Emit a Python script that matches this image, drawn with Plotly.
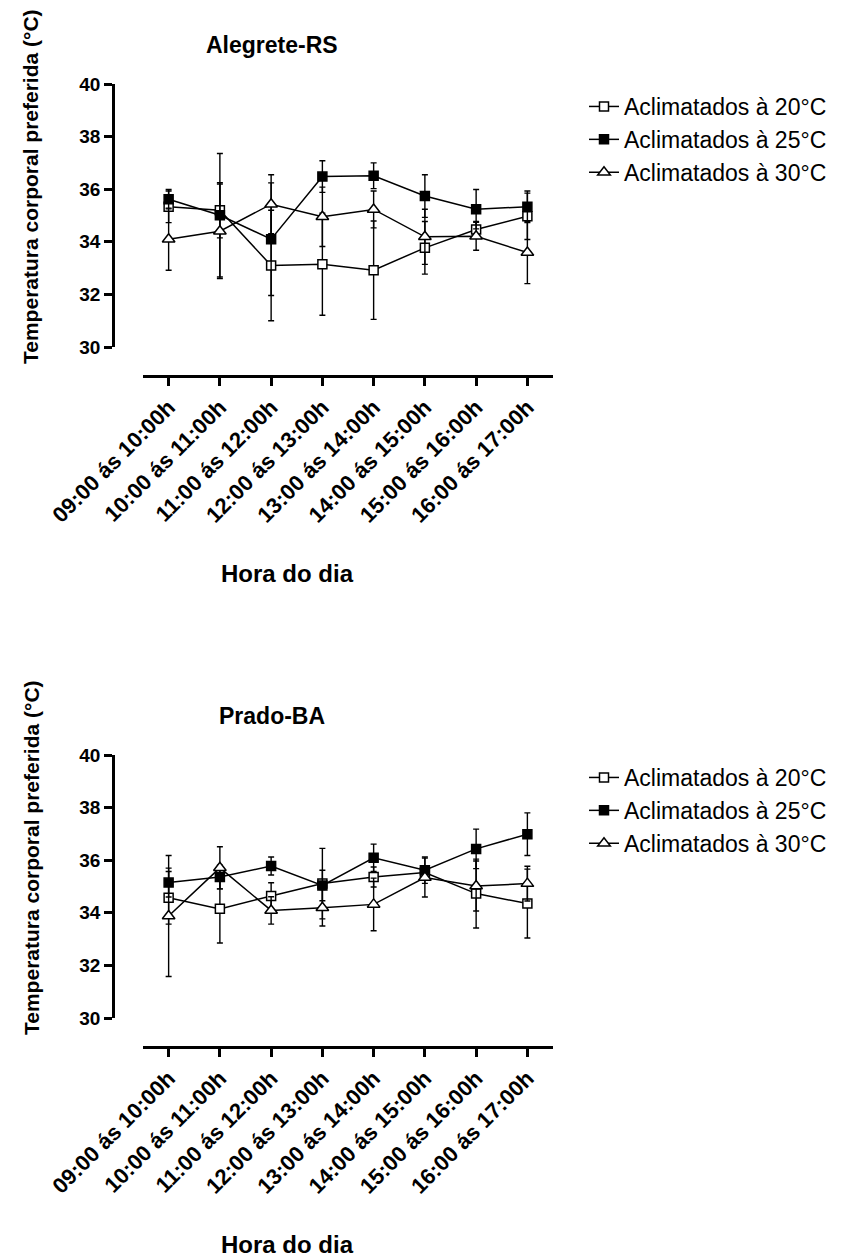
import plotly.graph_objects as go

W, H = 845, 1257

hours = ["09:00 ás 10:00h", "10:00 ás 11:00h", "11:00 ás 12:00h", "12:00 ás 13:00h",
         "13:00 ás 14:00h", "14:00 ás 15:00h", "15:00 ás 16:00h", "16:00 ás 17:00h"]
series_names = ["Aclimatados à 20°C", "Aclimatados à 25°C", "Aclimatados à 30°C"]

# Alegrete-RS
m20_a = [35.33, 35.20, 33.10, 33.15, 32.92, 33.77, 34.47, 34.97]
e20_a = [0.60, 1.05, 2.10, 1.94, 1.87, 1.00, 0.30, 0.88]
m25_a = [35.62, 35.01, 34.10, 36.48, 36.51, 35.74, 35.24, 35.33]
e25_a = [0.37, 2.35, 2.14, 0.60, 0.49, 0.81, 0.75, 0.60]
m30_a = [34.10, 34.40, 35.43, 34.95, 35.23, 34.19, 34.21, 33.59]
e30_a = [1.18, 1.80, 1.12, 1.13, 0.70, 1.05, 0.53, 1.18]

# Prado-BA
m20_p = [34.57, 34.15, 34.64, 35.11, 35.36, 35.53, 34.73, 34.35]
e20_p = [1.00, 1.30, 0.50, 1.34, 0.38, 0.25, 1.31, 1.31]
m25_p = [35.15, 35.36, 35.78, 35.04, 36.09, 35.62, 36.43, 36.99]
e25_p = [0.55, 0.45, 0.34, 0.58, 0.52, 0.50, 0.75, 0.81]
m30_p = [33.88, 35.71, 34.09, 34.19, 34.32, 35.34, 35.02, 35.11]
e30_p = [2.30, 0.80, 0.52, 0.69, 1.00, 0.74, 0.95, 0.66]

titles = ["Alegrete-RS", "Prado-BA"]
y_title = "Temperatura corporal preferida (°C)"
x_title = "Hora do dia"
y_ticks = [30, 32, 34, 36, 38, 40]

FONT = "Arial, Liberation Sans, sans-serif"

styles = [
    dict(symbol="square", color="white", size=9),
    dict(symbol="square", color="black", size=9),
    dict(symbol="triangle-up", color="white", size=11),
]

panels = [
    (m20_a, e20_a, m25_a, e25_a, m30_a, e30_a),
    (m20_p, e20_p, m25_p, e25_p, m30_p, e30_p),
]

fig = go.Figure()

for pi, p in enumerate(panels):
    xa = "x" if pi == 0 else "x2"
    ya = "y" if pi == 0 else "y2"
    lg = "legend" if pi == 0 else "legend2"
    for si in range(3):
        st = styles[si]
        fig.add_trace(go.Scatter(
            x=hours, y=p[2 * si],
            error_y=dict(type="data", array=p[2 * si + 1], visible=True,
                         color="black", thickness=1.4, width=3),
            mode="lines+markers",
            name=series_names[si],
            line=dict(color="black", width=1.5),
            marker=dict(symbol=st["symbol"], size=st["size"], color=st["color"],
                        line=dict(color="black", width=1.5)),
            xaxis=xa, yaxis=ya, legend=lg, cliponaxis=False,
        ))

def px(x):
    return x / W

def py(y):
    return 1 - y / H

offsets = [0, 671]
xdom = [px(143), px(553)]

axis_common = dict(showline=True, linecolor="black", linewidth=2.5, ticks="outside",
                   ticklen=8, tickwidth=2.5, tickcolor="black", showgrid=False,
                   zeroline=False, automargin=False)

layout = dict(
    width=W, height=H, autosize=False,
    margin=dict(l=0, r=0, t=0, b=0, autoexpand=False),
    paper_bgcolor="white", plot_bgcolor="white",
    font=dict(family=FONT, color="black"),
    showlegend=True,
)

for pi, off in enumerate(offsets):
    sfx = "" if pi == 0 else "2"
    layout["xaxis" + sfx] = dict(
        axis_common, type="category", range=[-0.5, 7.5], domain=xdom,
        anchor="free", position=py(376 + off), tickangle=-45,
        tickfont=dict(family=FONT, size=22, weight="bold", color="black"),
    )
    layout["yaxis" + sfx] = dict(
        axis_common, range=[30, 40], tickvals=y_ticks,
        domain=[py(347 + off), py(84 + off)],
        anchor="free", position=px(113),
        tickfont=dict(family=FONT, size=19, weight="bold", color="black"),
    )
    layout["legend" + sfx] = dict(
        x=px(584), y=py(85 + off), xanchor="left", yanchor="top",
        bgcolor="rgba(0,0,0,0)", borderwidth=0,
        font=dict(family=FONT, size=23, color="black"),
        tracegroupgap=0,
    )

fig.update_layout(**layout)

for pi, off in enumerate(offsets):
    fig.add_annotation(text=titles[pi], x=px(272), y=py(45 + off), xref="paper", yref="paper",
                       xanchor="center", yanchor="middle",
                       showarrow=False, font=dict(family=FONT, size=23, weight="bold", color="black"))
    fig.add_annotation(text=x_title, x=px(287), y=py(573 + off), xref="paper", yref="paper",
                       xanchor="center", yanchor="middle",
                       showarrow=False, font=dict(family=FONT, size=24, weight="bold", color="black"))
    fig.add_annotation(text=y_title, x=px(31), y=py(187 + off), xref="paper", yref="paper",
                       xanchor="center", yanchor="middle",
                       showarrow=False, textangle=-90,
                       font=dict(family=FONT, size=21, weight="bold", color="black"))

fig.write_html("out.html")
